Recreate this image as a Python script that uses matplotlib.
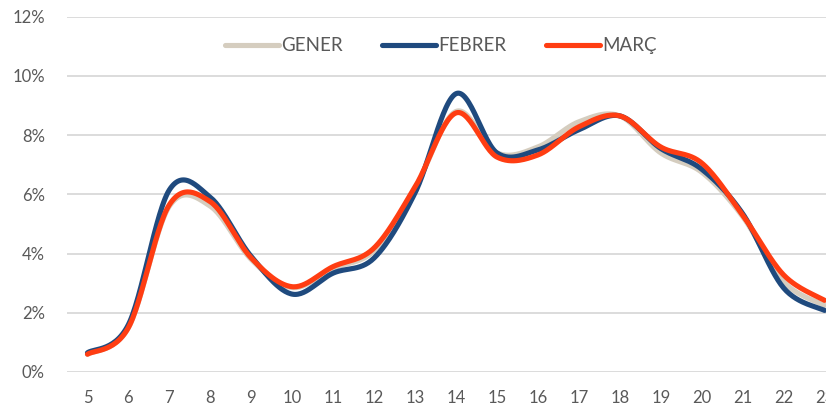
import matplotlib.pyplot as plt
import numpy as np
from matplotlib.ticker import FuncFormatter

# Dades (percentatge per hora)
hores = [5, 6, 7, 8, 9, 10, 11, 12, 13, 14, 15, 16, 17, 18, 19, 20, 21, 22, 23]
gener = [0.6, 1.5, 5.6, 5.6, 3.8, 2.85, 3.5, 4.1, 6.2, 8.8, 7.4, 7.6, 8.45, 8.65, 7.4, 6.75, 5.25, 3.05, 2.25]
febrer = [0.65, 1.6, 6.15, 5.9, 3.9, 2.63, 3.34, 3.85, 6.05, 9.4, 7.4, 7.5, 8.18, 8.65, 7.55, 6.85, 5.35, 2.84, 2.08]
marc = [0.6, 1.5, 5.65, 5.75, 3.85, 2.88, 3.56, 4.19, 6.25, 8.75, 7.26, 7.33, 8.28, 8.65, 7.6, 7.06, 5.3, 3.28, 2.42]

series = [("GENER", gener, "#D5CDBF"), ("FEBRER", febrer, "#1F4A7E"), ("MARÇ", marc, "#FF3D12")]
text_color = "#595959"


# Corba suavitzada a l'estil d'Excel (Bezier amb punts de control de Catmull-Rom)
def suavitzar(x, y, n=30):
    x = np.asarray(x, float)
    y = np.asarray(y, float)
    xs, ys = [], []
    for i in range(len(x) - 1):
        p0 = np.array([x[max(i - 1, 0)], y[max(i - 1, 0)]])
        p1 = np.array([x[i], y[i]])
        p2 = np.array([x[i + 1], y[i + 1]])
        p3 = np.array([x[min(i + 2, len(x) - 1)], y[min(i + 2, len(x) - 1)]])
        c1 = p1 + (p2 - p0) / 6
        c2 = p2 - (p3 - p1) / 6
        t = np.linspace(0, 1, n)[:, None]
        pts = (1 - t) ** 3 * p1 + 3 * (1 - t) ** 2 * t * c1 + 3 * (1 - t) * t ** 2 * c2 + t ** 3 * p2
        xs.append(pts[:, 0])
        ys.append(pts[:, 1])
    return np.concatenate(xs), np.concatenate(ys)


plt.rcParams['font.family'] = ['Lato', 'DejaVu Sans']

fig = plt.figure(figsize=(8.26, 4.07), dpi=100)
ax = fig.add_axes([67 / 826, 35 / 407, (845 - 67) / 826, (372 - 16.7) / 407])

for nom, vals, col in series:
    sx, sy = suavitzar(hores, vals)
    ax.plot(sx, sy, color=col, lw=3.7, label=nom, solid_capstyle='round')

ax.set_xlim(4.5, 23.5)
ax.set_ylim(0, 12)
ax.set_xticks(hores)
ax.set_yticks(range(0, 13, 2))
ax.yaxis.set_major_formatter(FuncFormatter(lambda v, p: f"{int(v)}%"))
ax.grid(axis='y', color='#D9D9D9', lw=1.3)
ax.set_axisbelow(True)
for s in ax.spines.values():
    s.set_visible(False)
ax.tick_params(axis='both', length=0, labelsize=12, labelcolor=text_color)
ax.tick_params(axis='y', pad=16)
ax.tick_params(axis='x', pad=13)

leg = ax.legend(loc='upper center', bbox_to_anchor=(0.48, 0.99), ncol=3, frameon=False,
                fontsize=13.5, handlelength=2.9, handletextpad=0.1, columnspacing=2.1,
                labelcolor=text_color)

fig.savefig("out.png", dpi=100)
